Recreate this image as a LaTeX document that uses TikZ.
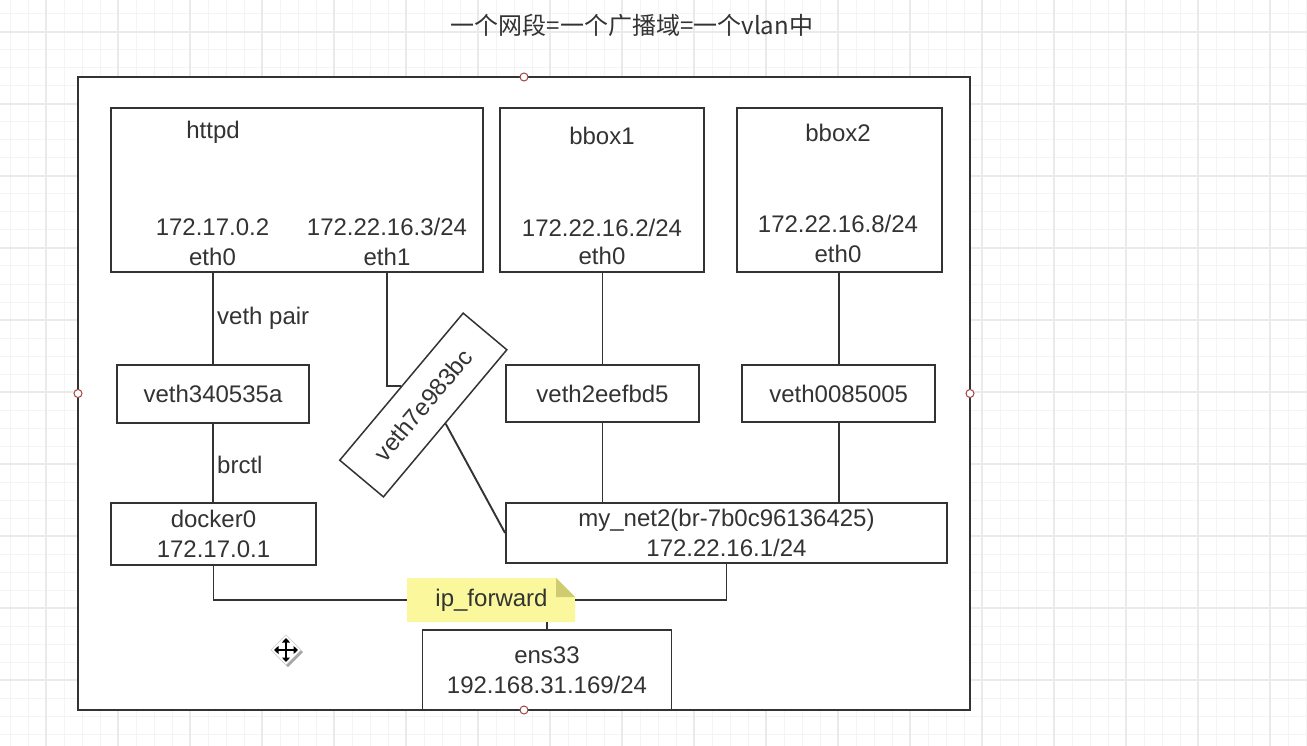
\documentclass[tikz,border=0pt]{standalone}
\usepackage{fontspec}
\setmainfont{Liberation Sans}
\newfontfamily\cjkfont{Noto Sans CJK SC}
\usetikzlibrary{arrows.meta}
\definecolor{ink}{HTML}{333333}
\definecolor{gridminor}{HTML}{F4F4F4}
\definecolor{gridmajor}{HTML}{EAEAEA}
\definecolor{notefill}{HTML}{FAF79C}
\definecolor{notefold}{HTML}{CFCB70}
\definecolor{handlered}{HTML}{A04545}
\begin{document}
\begin{tikzpicture}[x=1pt,y=-1pt,
  txt/.style={text=ink,font=\fontsize{24}{30}\selectfont,inner sep=0pt},
  box/.style={draw=ink,line width=1.9pt,fill=white,txt,align=center},
  wire/.style={draw=ink,line width=1.9pt},
  handle/.style={draw=handlered,fill=white,line width=1pt},
  gridminorline/.style={draw=gridminor,line width=1pt},
  gridmajorline/.style={draw=gridmajor,line width=1.1pt}]
\useasboundingbox (0,0) rectangle (1307,746);
\fill[white] (0,0) rectangle (1307,746);
% background grid
\foreach \x in {10,28,...,1306} \draw[gridminorline] (\x,0) -- (\x,746);
\foreach \y in {14,32,...,745} \draw[gridminorline] (0,\y) -- (1307,\y);
\foreach \x in {46,118,...,1306} \draw[gridmajorline] (\x,0) -- (\x,746);
\foreach \y in {32,104,...,745} \draw[gridmajorline] (0,\y) -- (1307,\y);

% title
\node[txt] (title) at (632,25) {\cjkfont\fontsize{24}{28}\selectfont 一个网段=一个广播域=一个vlan中};

% outer frame
\node[draw=ink,line width=2.2pt,fill=white,minimum width=892pt,minimum height=633pt,inner sep=0pt,outer sep=0pt] (outer) at (524,393.5) {};

% containers
\node[box,minimum width=372pt,minimum height=164pt] (httpd) at (297,190) {};
\node[txt] (httpdname) at (213,132) {httpd};
\node[txt] (httpdip0) at (212.5,227) {172.17.0.2};
\node[txt] (httpdeth0) at (212.5,257) {eth0};
\node[txt] (httpdip1) at (387,227) {172.22.16.3/24};
\node[txt] (httpdeth1) at (387,257) {eth1};

\node[box,minimum width=204pt,minimum height=164pt] (bbox1) at (602,190) {};
\node[txt] (b1name) at (602,136) {bbox1};
\node[txt] (b1ip) at (602,227.5) {172.22.16.2/24};
\node[txt] (b1eth) at (602,256) {eth0};

\node[box,minimum width=205pt,minimum height=164pt] (bbox2) at (839.5,190) {};
\node[txt] (b2name) at (838,133) {bbox2};
\node[txt] (b2ip) at (838,224) {172.22.16.8/24};
\node[txt] (b2eth) at (838,254) {eth0};

% veth interfaces
\node[box,minimum width=192pt,minimum height=58pt] (v3) at (213,394) {veth340535a};
\node[box,minimum width=193pt,minimum height=57pt] (v2) at (602.5,393.5) {veth2eefbd5};
\node[box,minimum width=193pt,minimum height=57pt] (v0) at (838.7,393.5) {veth0085005};
\node[box,minimum width=192pt,minimum height=57pt,rotate=50,line width=1.5pt] (v7) at (423.3,405) {veth7e983bc};

% bridges
\node[box,minimum width=205pt,minimum height=62pt] (docker0) at (213.5,534) {docker0\\172.17.0.1};
\node[box,minimum width=441pt,minimum height=60pt] (mynet) at (726.5,533) {my\_net2(br-7b0c96136425)\\172.22.16.1/24};

% host nic
\node[box,minimum width=249pt,minimum height=80pt] (ens33) at (547,670) {ens33\\192.168.31.169/24};

% ip_forward note
\node[minimum width=168pt,minimum height=44pt,inner sep=0pt,outer sep=0pt] (ipf) at (491,600) {};
\fill[notefill] (ipf.south west) -- (ipf.north west) -- ([xshift=-19pt]ipf.north east) -- ([yshift=-19pt]ipf.north east) -- (ipf.south east) -- cycle;
\fill[notefold] ([xshift=-19pt]ipf.north east) -- ([xshift=-19pt,yshift=-19pt]ipf.north east) -- ([yshift=-19pt]ipf.north east) -- cycle;
\node[txt] (ipftext) at (491.5,600) {ip\_forward};

% connectors
\draw[wire] (v3.north |- httpd.south) -- (v3.north);
\node[txt,anchor=west] (vethpair) at (217,318) {veth pair};
\draw[wire] (httpdeth1.south |- httpd.south) |- (v7.north);
\draw[wire] (v3.south) -- (v3.south |- docker0.north);
\node[txt,anchor=west] (brctl) at (217,465) {brctl};
\draw[wire] (v2.north |- bbox1.south) -- (v2.north);
\draw[wire] (v0.north |- bbox2.south) -- (v0.north);
\draw[wire] (v2.south) -- (v2.south |- mynet.north);
\draw[wire] (v0.south) -- (v0.south |- mynet.north);
\draw[wire] (v7.south) -- (mynet.west);
\draw[wire] (docker0.south) |- (ipf.west);
\draw[wire] (mynet.south) |- (ipf.east);
\draw[wire] (ens33.north |- ipf.south) -- (ens33.north);

% selection handles
\draw[handle] (outer.north) circle (4pt);
\draw[handle] (outer.south) circle (4pt);
\draw[handle] (outer.west) circle (4pt);
\draw[handle] (outer.east) circle (4pt);

% move cursor
\begin{scope}[shift={(286,650)}]
\fill[black!35,shift={(2,2)}] (0,-15) -- (15,0) -- (0,15) -- (-15,0) -- cycle;
\filldraw[fill=white,draw=black!20] (0,-15) -- (15,0) -- (0,15) -- (-15,0) -- cycle;
\draw[black,line width=2.4pt,-{Triangle[length=4.5pt,width=8pt]}] (0,0) -- (0,-12);
\draw[black,line width=2.4pt,-{Triangle[length=4.5pt,width=8pt]}] (0,0) -- (0,12);
\draw[black,line width=2.4pt,-{Triangle[length=4.5pt,width=8pt]}] (0,0) -- (-12,0);
\draw[black,line width=2.4pt,-{Triangle[length=4.5pt,width=8pt]}] (0,0) -- (12,0);
\end{scope}
\end{tikzpicture}
\end{document}
